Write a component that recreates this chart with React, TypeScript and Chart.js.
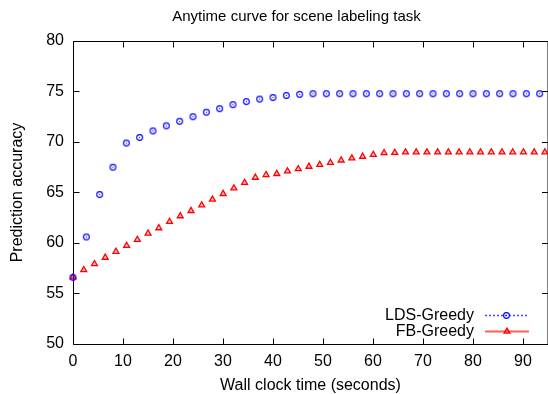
import React, { useEffect, useRef } from 'react';
import { Chart, registerables } from 'chart.js';

Chart.register(...registerables);

// ---- data ----
const ldsTimes = [
  0, 2.67, 5.33, 8, 10.67, 13.33, 16, 18.67, 21.33, 24, 26.67, 29.33, 32, 34.67, 37.33, 40, 42.67, 45.33,
  48, 50.67, 53.33, 56, 58.67, 61.33, 64, 66.67, 69.33, 72, 74.67, 77.33, 80, 82.67, 85.33, 88, 90.67, 93.33,
];
const ldsAccuracy = [
  56.6, 60.6, 64.8, 67.5, 69.9, 70.45, 71.1, 71.6, 72.05, 72.5, 72.95, 73.3, 73.7, 74.0, 74.25, 74.4, 74.6, 74.72,
  74.78, 74.78, 74.78, 74.78, 74.78, 74.78, 74.78, 74.78, 74.78, 74.78, 74.78, 74.78, 74.78, 74.78, 74.78, 74.78, 74.78, 74.78,
];
const fbTimes = [
  0, 2.15, 4.29, 6.44, 8.58, 10.73, 12.87, 15.02, 17.16, 19.31, 21.45, 23.6, 25.74, 27.89, 30.03, 32.18, 34.32,
  36.47, 38.61, 40.76, 42.9, 45.05, 47.19, 49.34, 51.48, 53.63, 55.77, 57.92, 60.06, 62.21, 64.35, 66.5, 68.64,
  70.79, 72.93, 75.08, 77.22, 79.37, 81.51, 83.66, 85.8, 87.95, 90.09, 92.24, 94.38,
];
const fbAccuracy = [
  56.62, 57.34, 57.93, 58.56, 59.15, 59.74, 60.33, 60.95, 61.48, 62.11, 62.67, 63.19, 63.75, 64.31, 64.87, 65.43,
  65.98, 66.48, 66.75, 66.85, 67.11, 67.34, 67.57, 67.76, 67.96, 68.19, 68.39, 68.56, 68.75, 68.92, 68.95,
  69.0, 69.0, 69.0, 69.0, 69.0, 69.0, 69.0, 69.0, 69.0, 69.0, 69.0, 69.0, 69.0, 69.0,
];
const xTicks = [0, 10, 20, 30, 40, 50, 60, 70, 80, 90];
const yTicks = [50, 55, 60, 65, 70, 75, 80];
const seriesNames = ['LDS-Greedy', 'FB-Greedy'];
const chartTitle = 'Anytime curve for scene labeling task';
const xTitle = 'Wall clock time (seconds)';
const yTitle = 'Prediction accuracy';

const FONT = '"Liberation Sans", Arial, Helvetica, sans-serif';
const BLUE = 'rgb(0,0,255)';
const RED = 'rgb(255,0,0)';
const RED_FILL = 'rgba(255,0,0,0.25)';

function makeCircleMarker(): HTMLCanvasElement {
  const c = document.createElement('canvas');
  c.width = 9;
  c.height = 9;
  const g = c.getContext('2d')!;
  g.strokeStyle = BLUE;
  g.lineWidth = 1.1;
  g.beginPath();
  g.arc(4.5, 4.5, 2.9, 0, Math.PI * 2);
  g.stroke();
  g.fillStyle = BLUE;
  g.fillRect(4, 4, 1, 1);
  return c;
}

function drawTriangle(ctx: CanvasRenderingContext2D, x: number, y: number, r: number) {
  ctx.beginPath();
  let rad = 0;
  for (let i = 0; i < 3; i++) {
    const px = x + Math.sin(rad) * r;
    const py = y - Math.cos(rad) * r;
    if (i === 0) ctx.moveTo(px, py);
    else ctx.lineTo(px, py);
    rad += (2 * Math.PI) / 3;
  }
  ctx.closePath();
  ctx.fillStyle = RED_FILL;
  ctx.fill();
  ctx.strokeStyle = RED;
  ctx.lineWidth = 1.3;
  ctx.stroke();
}

export default function App() {
  const ref = useRef<HTMLCanvasElement | null>(null);

  useEffect(() => {
    if (!ref.current) return;
    const circleImg = makeCircleMarker();

    const framePlugin = {
      id: 'frame',
      beforeDatasetsDraw(chart: any) {
        const { ctx, chartArea: a, scales } = chart;
        const xs = scales.x;
        const ys = scales.y;
        const L = a.left + 0.5;
        const T = a.top + 0.5;
        const B = a.bottom + 0.5;
        const R = a.right;
        ctx.save();
        ctx.strokeStyle = '#000';
        ctx.lineWidth = 1;
        ctx.beginPath();
        ctx.moveTo(L, T);
        ctx.lineTo(R, T);
        ctx.moveTo(L, T);
        ctx.lineTo(L, B);
        ctx.lineTo(R, B);
        ctx.moveTo(R, T);
        ctx.lineTo(R, B);
        const tl = 6;
        xTicks.forEach((v) => {
          const px = Math.floor(xs.getPixelForValue(v)) + 0.5;
          ctx.moveTo(px, B);
          ctx.lineTo(px, B - tl);
          ctx.moveTo(px, T);
          ctx.lineTo(px, T + tl);
        });
        yTicks.forEach((v) => {
          const py = Math.floor(ys.getPixelForValue(v)) + 0.5;
          ctx.moveTo(L, py);
          ctx.lineTo(L + tl, py);
          ctx.moveTo(R, py);
          ctx.lineTo(R - tl, py);
        });
        ctx.stroke();

        // title
        ctx.fillStyle = '#000';
        ctx.font = `15px ${FONT}`;
        ctx.textAlign = 'center';
        ctx.textBaseline = 'middle';
        ctx.fillText(chartTitle, 296.5, 16.5);
        ctx.restore();
      },
      afterDatasetsDraw(chart: any) {
        const ctx = chart.ctx;
        ctx.save();
        ctx.font = `16px ${FONT}`;
        ctx.fillStyle = '#000';
        ctx.textAlign = 'right';
        ctx.textBaseline = 'middle';
        const y1 = 315.5;
        const y2 = 331.5;
        ctx.fillText(seriesNames[0], 474, y1);
        ctx.fillText(seriesNames[1], 474, y2);

        ctx.strokeStyle = 'rgb(70,70,255)';
        ctx.lineWidth = 1.5;
        ctx.setLineDash([2, 2]);
        ctx.beginPath();
        ctx.moveTo(485, y1);
        ctx.lineTo(528, y1);
        ctx.stroke();
        ctx.setLineDash([]);
        ctx.drawImage(circleImg, 502, 311);

        ctx.strokeStyle = 'rgb(255,95,95)';
        ctx.lineWidth = 2;
        ctx.beginPath();
        ctx.moveTo(485, y2);
        ctx.lineTo(529, y2);
        ctx.stroke();
        drawTriangle(ctx, 507, y2, 3.4);
        ctx.restore();
      },
    };

    const chart = new Chart(ref.current, {
      type: 'scatter',
      data: {
        datasets: [
          {
            label: seriesNames[0],
            data: ldsTimes.map((t, i) => ({ x: t, y: ldsAccuracy[i] })),
            showLine: false,
            pointStyle: circleImg as any,
            pointRadius: 4,
            clip: false as any,
          },
          {
            label: seriesNames[1],
            data: fbTimes.map((t, i) => ({ x: t, y: fbAccuracy[i] })),
            showLine: false,
            pointStyle: 'triangle',
            pointRadius: 3.4,
            pointBorderWidth: 1.3,
            pointBorderColor: RED,
            pointBackgroundColor: RED_FILL,
            clip: false as any,
          },
        ],
      },
      options: {
        responsive: false,
        animation: false,
        layout: { autoPadding: false, padding: { top: 41, left: 0, right: 0, bottom: 0 } },
        plugins: {
          legend: { display: false },
          tooltip: { enabled: false },
          title: { display: false },
        },
        scales: {
          x: {
            type: 'linear',
            min: 0,
            max: 95,
            afterBuildTicks: (s: any) => {
              s.ticks = xTicks.map((v) => ({ value: v }));
            },
            afterFit: (s: any) => {
              s.height = 50;
              s.paddingLeft = 0;
              s.paddingRight = 0;
              s.paddingTop = 0;
              s.paddingBottom = 0;
            },
            grid: { display: false, drawTicks: false },
            border: { display: false },
            ticks: {
              font: { family: FONT, size: 16 },
              color: '#000',
              padding: 8,
              maxRotation: 0,
              autoSkip: false,
            },
            title: {
              display: true,
              text: xTitle,
              color: '#000',
              font: { family: FONT, size: 16, lineHeight: 1 },
              padding: { top: 0, bottom: 0.5 },
            },
          },
          y: {
            type: 'linear',
            min: 50,
            max: 80,
            afterBuildTicks: (s: any) => {
              s.ticks = yTicks.map((v) => ({ value: v }));
            },
            afterFit: (s: any) => {
              s.width = 73;
              s.paddingLeft = 0;
              s.paddingRight = 0;
              s.paddingTop = 0;
              s.paddingBottom = 0;
            },
            grid: { display: false, drawTicks: false },
            border: { display: false },
            ticks: {
              font: { family: FONT, size: 16 },
              color: '#000',
              padding: 9,
              autoSkip: false,
            },
            title: {
              display: true,
              text: yTitle,
              color: '#000',
              font: { family: FONT, size: 16, lineHeight: 1 },
              padding: { top: 10, bottom: 0 },
            },
          },
        },
      },
      plugins: [framePlugin],
    });

    return () => chart.destroy();
  }, []);

  return (
    <div style={{ position: 'absolute', left: 0, top: 0, width: 548, height: 394, background: '#fff' }}>
      <canvas ref={ref} width={548} height={394} style={{ display: 'block' }} />
    </div>
  );
}
